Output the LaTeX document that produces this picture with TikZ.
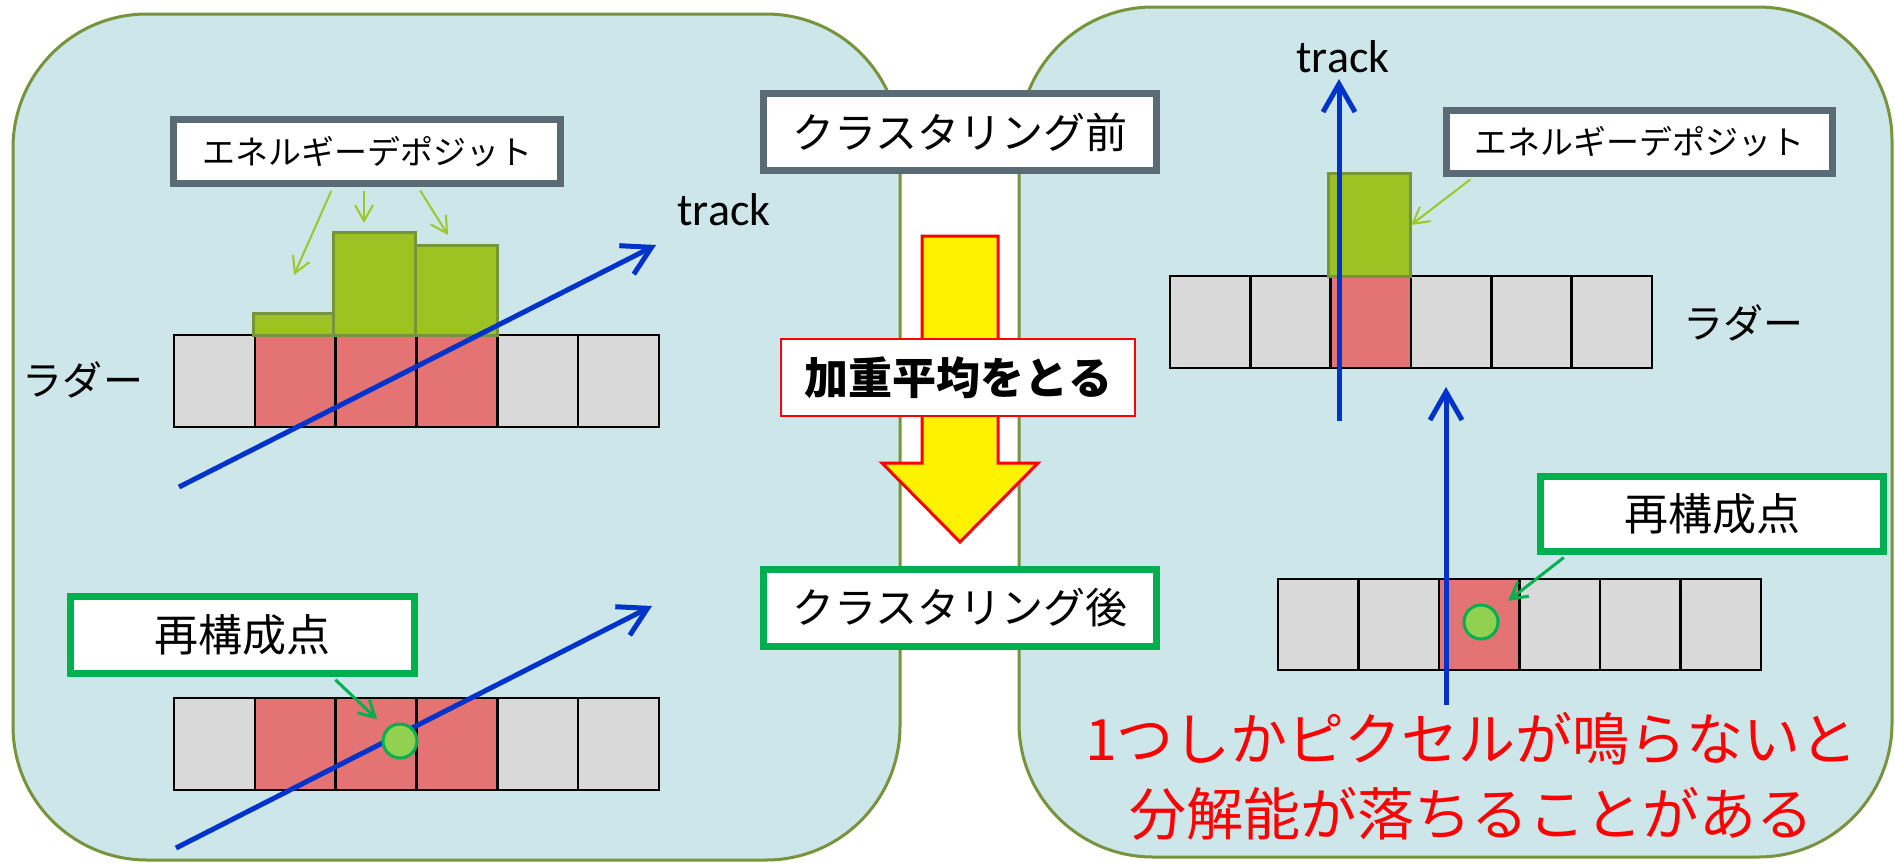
\documentclass[tikz,border=0pt]{standalone}
\usepackage{fontspec}
\setmainfont{Noto Sans CJK JP}
\newfontfamily\lat{Carlito}
\usetikzlibrary{arrows.meta}
\definecolor{panelfill}{RGB}{205,230,234}
\definecolor{olivec}{RGB}{119,147,60}
\definecolor{cellgray}{RGB}{217,217,217}
\definecolor{cellred}{RGB}{228,115,115}
\definecolor{barfill}{RGB}{155,196,35}
\definecolor{trackblue}{RGB}{0,51,204}
\definecolor{boxgreen}{RGB}{0,176,80}
\definecolor{dotfill}{RGB}{146,208,80}
\definecolor{slate}{RGB}{91,107,118}
\definecolor{thingreen}{RGB}{155,200,40}
\newcommand\ladderrow[4]{%
  \foreach \i in {0,...,5}{\draw[cellg] ({#1+#2*\i},#3) rectangle ({#1+#2*(\i+1)},#4);}}
\begin{document}
\begin{tikzpicture}[x=0.5pt,y=-0.5pt,
  panel/.style={draw=olivec, line width=1.5pt, fill=panelfill, rounded corners=67pt},
  slatebox/.style={draw=slate, line width=3.5pt, fill=white, inner sep=0pt},
  greenbox/.style={draw=boxgreen, line width=3.5pt, fill=white, inner sep=0pt},
  cellg/.style={draw=black, line width=1.2pt, fill=cellgray},
  cellr/.style={draw=black, line width=1.2pt, fill=cellred},
  bar/.style={draw=olivec, line width=1.5pt, fill=barfill},
  trk/.style={draw=trackblue, line width=2.5pt, -{Straight Barb[length=14pt,width=16pt]}},
  deparrow/.style={draw=thingreen, line width=1pt, -{Straight Barb[length=8pt,width=9pt]}, shorten <=2pt},
  recarrow/.style={draw=boxgreen, line width=1.5pt, -{Straight Barb[length=8pt,width=9pt]}, shorten <=2pt},
  dotnode/.style={circle, draw=boxgreen, line width=1.5pt, fill=dotfill, minimum size=17pt, inner sep=0pt},
  lbl/.style={inner sep=0pt}
]
\useasboundingbox (0,0) rectangle (1895,863);
\fill[white] (0,0) rectangle (1895,863);
% panels
\draw[panel] (13,14) rectangle (900,860);
\draw[panel] (1019,7) rectangle (1892,857);

% ===== left panel =====
\ladderrow{174}{80.83}{335}{427}
\foreach \i in {1,2,3}{\draw[cellr] ({174+80.83*\i},335) rectangle ({174+80.83*(\i+1)},427);}
\draw[bar] (253,313) rectangle (333,335);
\draw[bar] (333,232) rectangle (415,335);
\draw[bar] (415,245) rectangle (497,335);

\coordinate (tLa) at (179,487);
\coordinate (tLb) at (656,245);
\draw[trk] (tLa) -- (tLb);
\node[lbl, font=\lat\fontsize{23pt}{28pt}\selectfont] (trackL) at (724,210) {track};
\node[lbl, font=\fontsize{20pt}{24pt}\selectfont] (ladL) at (83,380) {ラダー};

\node[slatebox, minimum width=193.5pt, minimum height=32pt, font=\fontsize{16.5pt}{20pt}\selectfont] (depL) at (367,151.5) {エネルギーデポジット};
\coordinate (d1) at (294,275);
\coordinate (d2) at (364,223);
\coordinate (d3) at (448,235);
\draw[deparrow] ([xshift=-17pt]depL.south) -- (d1);
\draw[deparrow] ([xshift=-1.5pt]depL.south) -- (d2);
\draw[deparrow] ([xshift=25.5pt]depL.south) -- (d3);

\ladderrow{174}{80.83}{698}{790}
\foreach \i in {1,2,3}{\draw[cellr] ({174+80.83*\i},698) rectangle ({174+80.83*(\i+1)},790);}
\coordinate (bLa) at (176,848);
\coordinate (bLb) at (652,606);
\draw[trk] (bLa) -- (bLb);
\node[dotnode] (dotL) at (400,741) {};
\node[greenbox, minimum width=172pt, minimum height=38.5pt, font=\fontsize{22pt}{26pt}\selectfont] (reconL) at (242.5,635) {再構成点};
\draw[recarrow, shorten >=6.5pt] ([xshift=45pt]reconL.south) -- (dotL);

% ===== centre =====
\draw[draw=red, line width=1.5pt, fill=yellow] (922,236) -- (998,236) -- (998,463) -- (1038,463) -- (960,542) -- (882,463) -- (922,463) -- cycle;
\node[slatebox, minimum width=196.5pt, minimum height=38.5pt, font=\fontsize{21pt}{25pt}\selectfont] (before) at (960,132) {クラスタリング前};
\node[draw=red, line width=1pt, fill=white, inner sep=0pt, minimum width=177pt, minimum height=38.5pt, font=\bfseries\fontsize{22pt}{26pt}\selectfont] (avg) at (958,377.5) {加重平均をとる};
\node[greenbox, minimum width=196.5pt, minimum height=38.5pt, font=\fontsize{21pt}{25pt}\selectfont] (after) at (960,608) {クラスタリング後};

% ===== right panel =====
\ladderrow{1170}{80.33}{276}{368}
\draw[cellr] (1330.7,276) rectangle (1411,368);
\draw[bar] (1328,173) rectangle (1410,276);
\coordinate (tRa) at (1339,421);
\coordinate (tRb) at (1339,79);
\draw[trk] (tRa) -- (tRb);
\node[lbl, font=\lat\fontsize{23pt}{28pt}\selectfont] (trackR) at (1343,57) {track};
\node[lbl, font=\fontsize{20pt}{24pt}\selectfont] (ladR) at (1743,323) {ラダー};
\node[slatebox, minimum width=193pt, minimum height=31.5pt, font=\fontsize{16.5pt}{20pt}\selectfont] (depR) at (1639.5,142) {エネルギーデポジット};
\coordinate (d4) at (1411,225);
\draw[deparrow] ([xshift=-83pt]depR.south) -- (d4);

\ladderrow{1278}{80.5}{579}{670}
\draw[cellr] (1439,579) rectangle (1519.5,670);
\coordinate (bRa) at (1446,705);
\coordinate (bRb) at (1446,387);
\draw[trk] (bRa) -- (bRb);
\node[dotnode] (dotR) at (1481,622) {};
\node[greenbox, minimum width=171.5pt, minimum height=37.5pt, font=\fontsize{22pt}{26pt}\selectfont] (reconR) at (1712,514) {再構成点};
\draw[recarrow, shorten >=8pt] ([xshift=-72.5pt]reconR.south) -- (dotR);

\node[lbl, text=red, align=center, font=\fontsize{28.5pt}{37.5pt}\selectfont] (note) at (1471.5,776) {1つしかピクセルが鳴らないと\\分解能が落ちることがある};
\end{tikzpicture}
\end{document}
